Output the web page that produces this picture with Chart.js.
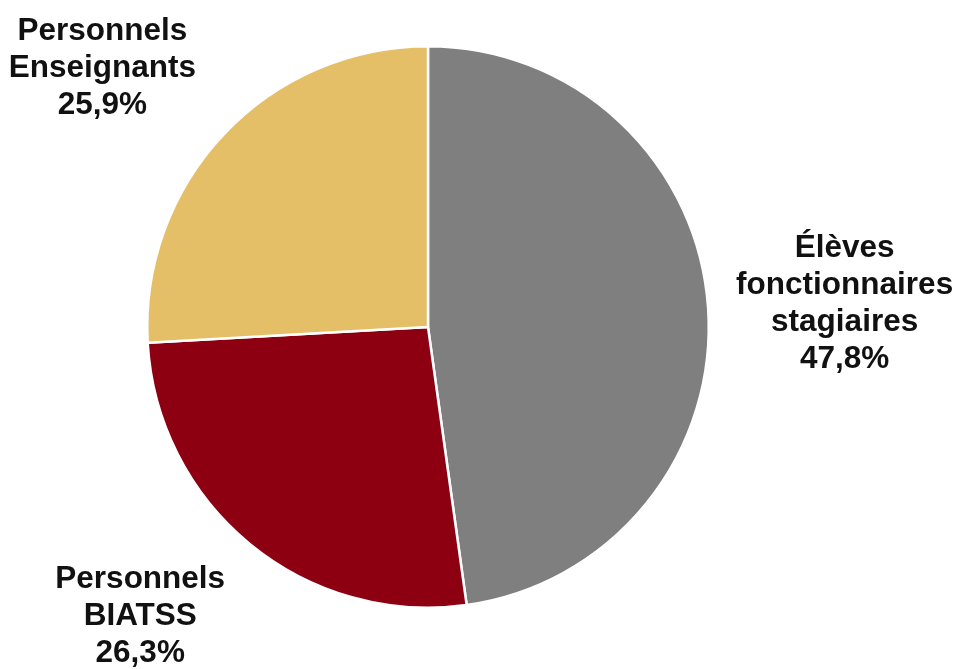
<!DOCTYPE html>
<html>
<head>
<meta charset="utf-8">
<script src="https://cdn.jsdelivr.net/npm/chart.js@4/dist/chart.umd.min.js"></script>
<style>
  html, body { margin: 0; padding: 0; background: #ffffff; }
  #wrap { width: 958px; height: 669px; }
</style>
</head>
<body>
<div id="wrap"><canvas id="c" width="958" height="669"></canvas></div>
<script>
// ---- Data ----
const categories = [
  ['Élèves', 'fonctionnaires', 'stagiaires'],
  ['Personnels', 'BIATSS'],
  ['Personnels', 'Enseignants']
];
const shares = [47.8, 26.3, 25.9];
const sliceColors = ['#7f7f7f', '#8c0012', '#e5bf68'];

// label anchor offsets relative to pie centre, in units of radius (layout only)
const labelAnchors = [[1.484, -0.249], [-1.025, 0.929], [-1.160, -1.021]];

const fmtPct = v => v.toFixed(1).replace('.', ',') + '%';

const outsideLabels = {
  id: 'outsideLabels',
  afterDraw(chart) {
    const ctx = chart.ctx;
    const meta = chart.getDatasetMeta(0);
    ctx.save();
    ctx.font = 'bold 31.5px "Liberation Sans", Arial, sans-serif';
    ctx.fillStyle = '#111111';
    ctx.textAlign = 'center';
    ctx.textBaseline = 'alphabetic';
    const lineH = 37;
    meta.data.forEach((arc, i) => {
      const p = arc.getProps(['x', 'y', 'outerRadius'], true);
      const cx = p.x + labelAnchors[i][0] * p.outerRadius;
      const y0 = p.y + labelAnchors[i][1] * p.outerRadius;
      const lines = categories[i].concat([fmtPct(shares[i])]);
      lines.forEach((t, k) => ctx.fillText(t, cx, y0 + k * lineH));
    });
    ctx.restore();
  }
};

new Chart(document.getElementById('c'), {
  type: 'pie',
  data: {
    labels: categories.map(l => l.join(' ')),
    datasets: [{
      data: shares,
      backgroundColor: sliceColors,
      borderColor: '#ffffff',
      borderWidth: 2.5,
      hoverOffset: 0
    }]
  },
  options: {
    responsive: false,
    animation: false,
    layout: { padding: { left: 146, right: 248, top: 45, bottom: 60 } },
    plugins: {
      legend: { display: false },
      tooltip: { enabled: false }
    }
  },
  plugins: [outsideLabels]
});
</script>
</body>
</html>
